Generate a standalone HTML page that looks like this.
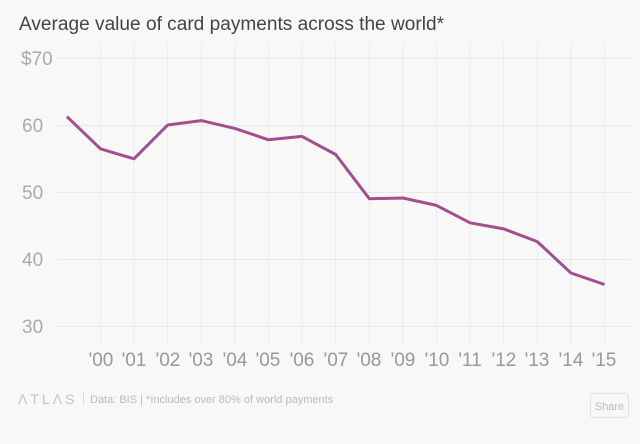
<!DOCTYPE html>
<html><head><style>
body{margin:0;background:#f8f8f8;width:640px;height:439px;overflow:hidden;font-family:"Liberation Sans",sans-serif;}
</style></head><body>
<svg width="640" height="439" xmlns="http://www.w3.org/2000/svg">
<rect width="640" height="439" fill="#f8f8f8"/>
<text x="19" y="30" font-size="19" fill="#444" textLength="425" lengthAdjust="spacingAndGlyphs">Average value of card payments across the world*</text>
<g stroke="#e8e8e8" stroke-width="1">
<line x1="58" y1="58.5" x2="630" y2="58.5"/>
<line x1="58" y1="125.5" x2="630" y2="125.5"/>
<line x1="58" y1="192.5" x2="630" y2="192.5"/>
<line x1="58" y1="259.5" x2="630" y2="259.5"/>
<line x1="58" y1="326.5" x2="630" y2="326.5"/>
<g id="v"></g>
</g>
<g stroke="#ececec">
<line x1="100.5" y1="43" x2="100.5" y2="345"/><line x1="134" y1="43" x2="134" y2="345"/><line x1="167.7" y1="43" x2="167.7" y2="345"/><line x1="201.3" y1="43" x2="201.3" y2="345"/><line x1="234.9" y1="43" x2="234.9" y2="345"/><line x1="268.5" y1="43" x2="268.5" y2="345"/><line x1="302" y1="43" x2="302" y2="345"/><line x1="335.7" y1="43" x2="335.7" y2="345"/><line x1="369.3" y1="43" x2="369.3" y2="345"/><line x1="402.9" y1="43" x2="402.9" y2="345"/><line x1="436.5" y1="43" x2="436.5" y2="345"/><line x1="470.1" y1="43" x2="470.1" y2="345"/><line x1="503.7" y1="43" x2="503.7" y2="345"/><line x1="537.3" y1="43" x2="537.3" y2="345"/><line x1="570.9" y1="43" x2="570.9" y2="345"/><line x1="604.5" y1="43" x2="604.5" y2="345"/>
</g>
<g font-size="19" fill="#aaa">
<text x="21" y="65">$70</text><text x="22" y="132">60</text><text x="22" y="199">50</text><text x="22" y="266">40</text><text x="22" y="333">30</text>
</g>
<g font-size="19" fill="#999" text-anchor="middle">
<text x="101" y="366">'00</text><text x="134" y="366">'01</text><text x="168" y="366">'02</text><text x="201" y="366">'03</text><text x="235" y="366">'04</text><text x="268" y="366">'05</text><text x="302" y="366">'06</text><text x="336" y="366">'07</text><text x="369" y="366">'08</text><text x="403" y="366">'09</text><text x="437" y="366">'10</text><text x="470" y="366">'11</text><text x="504" y="366">'12</text><text x="537" y="366">'13</text><text x="571" y="366">'14</text><text x="604" y="366">'15</text>
</g>
<polyline fill="none" stroke="#a24f8e" stroke-width="3" stroke-linejoin="round" points="66.9,116.6 100.5,148.8 134,158.8 167.7,125 201.3,120.6 234.9,128.4 268.5,139.8 302,136.4 335.7,154.5 369.3,198.7 402.9,198 436.5,205.4 470.1,222.8 503.7,228.9 537.3,241.6 570.9,273 604.5,284.5"/>
<text x="18" y="404" font-size="14" fill="#c4c4c4" letter-spacing="3">ΛTLΛS</text>
<line x1="83.5" y1="392" x2="83.5" y2="406" stroke="#ddd"/>
<text x="90" y="403" font-size="11" fill="#bbb">Data:  BIS | *Includes over 80% of world payments</text>
<rect x="590.5" y="393.5" width="38" height="24" rx="3" fill="#f8f8f8" stroke="#e2e2e2"/>
<text x="609.5" y="410" font-size="11" fill="#bbb" text-anchor="middle">Share</text>
</svg>
</body></html>
